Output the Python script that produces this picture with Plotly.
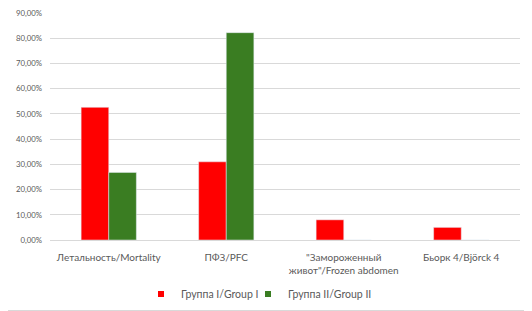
import plotly.graph_objects as go

categories = ["Летальность/Mortality", "ПФЗ/PFC", "\"Замороженный<br>живот\"/Frozen abdomen", "Бьорк 4/Björck 4"]
group1 = [52.6, 31.0, 8.0, 5.0]
group2 = [26.8, 82.2, 0, 0]
series_names = ["Группа I/Group I", "Группа II/Group II"]
colors = ["#ff0000", "#3a7d22"]
tick_vals = [0, 10, 20, 30, 40, 50, 60, 70, 80, 90]

# the page body has an 8px margin; size the figure so the drawing lands where the reference has it
W, H = 524, 303

fig = go.Figure()
for name, vals, col in zip(series_names, [group1, group2], colors):
    fig.add_trace(go.Bar(x=categories, y=[v / 100 for v in vals], name=name,
                         marker_color=col, showlegend=False))
for i, (name, col) in enumerate(zip(series_names, colors)):
    fig.add_trace(go.Scatter(x=[None], y=[None], mode="markers", name=name,
                             legend="legend" if i == 0 else "legend2",
                             marker=dict(symbol="square", size=6, color=col), showlegend=True))

leg_common = dict(orientation="h", xanchor="left", xref="container",
                  y=17 / H, yanchor="middle", yref="container",
                  font=dict(size=10.5, color="#595959"), itemwidth=30,
                  bgcolor="rgba(0,0,0,0)")

fig.update_layout(
    width=W, height=H,
    margin=dict(l=42, r=12, t=5, b=71, autoexpand=False),
    paper_bgcolor="white", plot_bgcolor="white",
    separators=", ",
    barmode="group", bargap=0.53, bargroupgap=0,
    font=dict(family="Lato, Open Sans, sans-serif", size=10, color="#595959"),
    legend=dict(x=133 / W, **leg_common),
    legend2=dict(x=240 / W, **leg_common),
    showlegend=True,
)
fig.update_yaxes(range=[0, 0.9], tickvals=[t / 100 for t in tick_vals], tickformat=".2%",
                 showgrid=True, gridcolor="#d9d9d9", gridwidth=1, zeroline=False,
                 showline=False, ticks="", fixedrange=True, tickfont=dict(size=7.8),
                 ticklabeloverflow="allow", ticklabelstandoff=7)
fig.update_xaxes(showline=True, linecolor="#d9d9d9", linewidth=1, ticks="", showgrid=False,
                 tickfont=dict(size=10), ticklabelstandoff=8)
fig.add_shape(type="line", xref="paper", yref="paper", x0=-42 / 470, x1=1 + 11.5 / 470,
              y0=-70.5 / 227, y1=-70.5 / 227, line=dict(color="#d9d9d9", width=1))
fig.add_shape(type="line", xref="paper", yref="paper", x0=1 + 11.5 / 470, x1=1 + 11.5 / 470,
              y0=-70.5 / 227, y1=1 + 5 / 227, line=dict(color="#d9d9d9", width=1))
fig.write_html("out.html")
